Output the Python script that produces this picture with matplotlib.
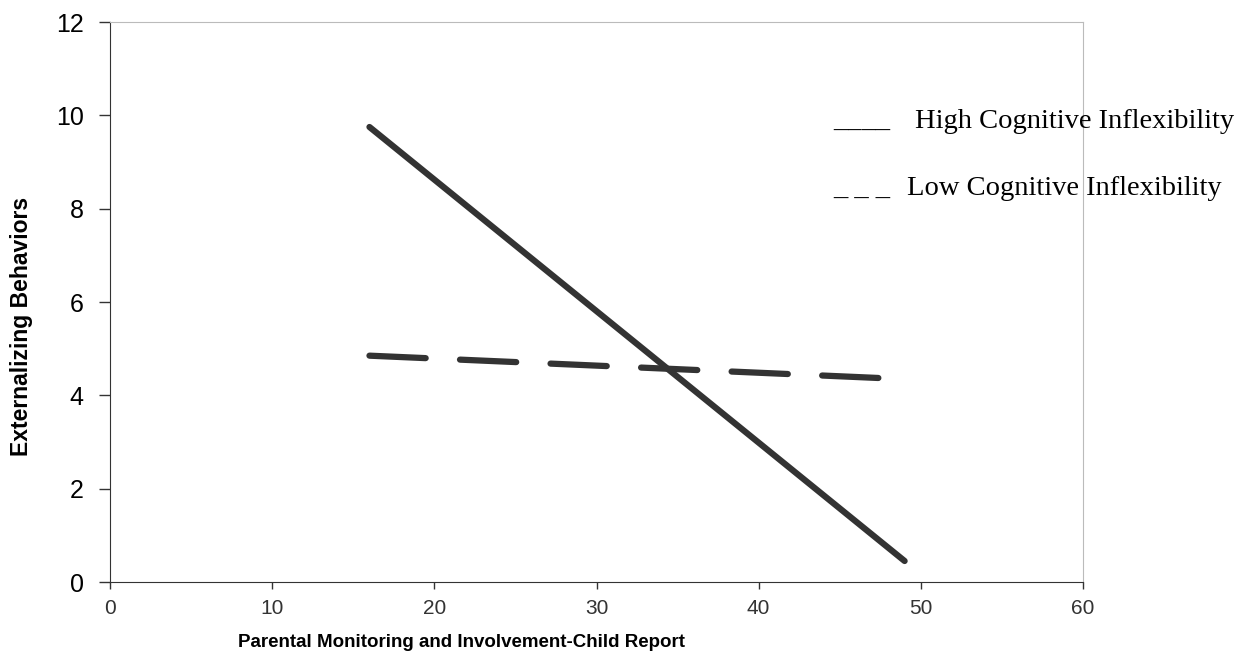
# -*- coding: UTF-8 -*-
import matplotlib
matplotlib.use('Agg')
import matplotlib.pyplot as plt

# values
high_x = [16, 49]
high_y = [9.75, 0.45]
low_x = [16, 47.5]
low_y = [4.85, 4.37]

x_ticks = [0, 10, 20, 30, 40, 50, 60]
y_ticks = [0, 2, 4, 6, 8, 10, 12]

line_color = '#333333'

fig = plt.figure(figsize=(12.45, 6.6), dpi=100)
ax = fig.add_axes([110 / 1245, 78 / 660, 973 / 1245, 560 / 660])

ax.plot(high_x, high_y, color=line_color, linewidth=4.5, solid_capstyle='round')
ax.plot(low_x, low_y, color=line_color, linewidth=4.5, dash_capstyle='round',
        dashes=(9, 5.5))

ax.set_xlim(0, 60)
ax.set_ylim(0, 12)
ax.set_xticks(x_ticks)
ax.set_yticks(y_ticks)

ax.spines['left'].set_color(line_color)
ax.spines['bottom'].set_color(line_color)
ax.spines['top'].set_color('#bbbbbb')
ax.spines['right'].set_color('#bbbbbb')

ax.tick_params(axis='y', direction='out', length=8, width=1, color=line_color,
               labelsize=18, pad=11, labelfontfamily='Liberation Sans')
ax.tick_params(axis='x', direction='out', length=5, width=1, color=line_color,
               labelsize=15, pad=7, labelcolor='#333333',
               labelfontfamily='Liberation Sans')

ax.set_xlabel('Parental Monitoring and Involvement-Child Report',
              fontsize=13.5, fontweight='bold', family='Liberation Sans')
ax.set_ylabel('Externalizing Behaviors', fontsize=16.5, fontweight='bold',
              family='Liberation Sans')
ax.xaxis.set_label_coords(351 / 973, -52 / 560)
ax.yaxis.set_label_coords(-77 / 973, 0.457)

# legend written as plain text, like the original
legend_size = 20.5
fig.text(833 / 1245, 1 - 128 / 660, '____', family='Liberation Serif',
         fontsize=legend_size, va='baseline')
fig.text(915 / 1245, 1 - 128 / 660, 'High Cognitive Inflexibility',
         family='Liberation Serif', fontsize=legend_size, va='baseline')
fig.text(833 / 1245, 1 - 195 / 660, '_ _ _', family='Liberation Serif',
         fontsize=legend_size, va='baseline')
fig.text(907 / 1245, 1 - 195 / 660, 'Low Cognitive Inflexibility',
         family='Liberation Serif', fontsize=legend_size, va='baseline')

fig.savefig('out.png', dpi=100)
